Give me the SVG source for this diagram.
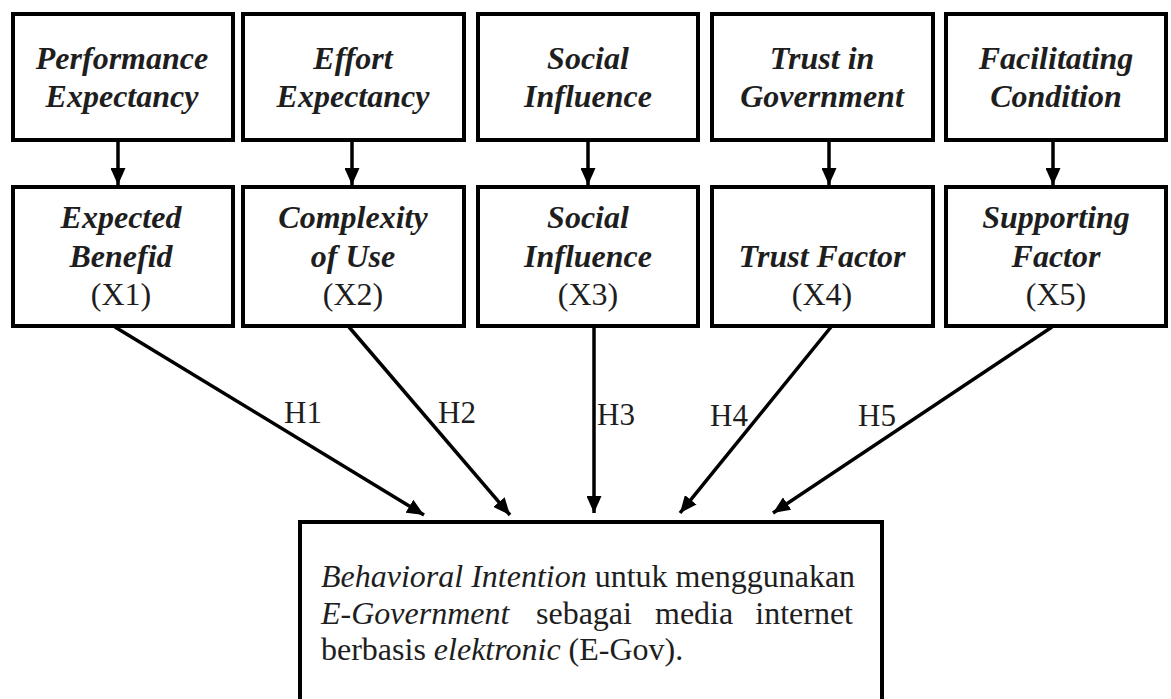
<svg xmlns="http://www.w3.org/2000/svg" width="1171" height="699" viewBox="0 0 1171 699">
<style>
.box{fill:#fff;stroke:#000;stroke-width:4}
.bi{font-style:italic;font-weight:bold}
</style>
<defs>
<marker id="ah" markerUnits="userSpaceOnUse" markerWidth="17" markerHeight="15" refX="17" refY="7.5" orient="auto">
<path d="M0,0 L17,7.5 L0,15 z" fill="#000"/>
</marker>
</defs>
<rect width="1171" height="699" fill="#fff"/>
<g font-family="Liberation Serif" font-size="32" fill="#1e1e1e">
<g id="performance-expectancy" text-anchor="middle">
<rect class="box" x="13" y="14" width="220" height="126"/>
<text class="bi" x="122" y="69">Performance</text>
<text class="bi" x="122" y="107">Expectancy</text>
</g>
<g id="effort-expectancy" text-anchor="middle">
<rect class="box" x="243" y="14" width="221" height="126"/>
<text class="bi" x="353" y="69">Effort</text>
<text class="bi" x="353" y="107">Expectancy</text>
</g>
<g id="social-influence-top" text-anchor="middle">
<rect class="box" x="478" y="14" width="220" height="126"/>
<text class="bi" x="588" y="69">Social</text>
<text class="bi" x="588" y="107">Influence</text>
</g>
<g id="trust-in-government" text-anchor="middle">
<rect class="box" x="712" y="14" width="221" height="126"/>
<text class="bi" x="822" y="69">Trust in</text>
<text class="bi" x="822" y="107">Government</text>
</g>
<g id="facilitating-condition" text-anchor="middle">
<rect class="box" x="946" y="14" width="220" height="126"/>
<text class="bi" x="1056" y="69">Facilitating</text>
<text class="bi" x="1056" y="107">Condition</text>
</g>

<g id="x1" text-anchor="middle">
<rect class="box" x="13" y="187" width="220" height="139"/>
<text class="bi" x="121" y="228">Expected</text>
<text class="bi" x="121" y="267">Benefid</text>
<text x="121" y="305">(X1)</text>
</g>
<g id="x2" text-anchor="middle">
<rect class="box" x="243" y="187" width="221" height="139"/>
<text class="bi" x="353" y="228">Complexity</text>
<text class="bi" x="353" y="267">of Use</text>
<text x="353" y="305">(X2)</text>
</g>
<g id="x3" text-anchor="middle">
<rect class="box" x="478" y="187" width="220" height="139"/>
<text class="bi" x="588" y="228">Social</text>
<text class="bi" x="588" y="267">Influence</text>
<text x="588" y="305">(X3)</text>
</g>
<g id="x4" text-anchor="middle">
<rect class="box" x="712" y="187" width="221" height="139"/>
<text class="bi" x="822" y="267">Trust Factor</text>
<text x="822" y="305">(X4)</text>
</g>
<g id="x5" text-anchor="middle">
<rect class="box" x="946" y="187" width="220" height="139"/>
<text class="bi" x="1056" y="228">Supporting</text>
<text class="bi" x="1056" y="267">Factor</text>
<text x="1056" y="305">(X5)</text>
</g>

<g id="behavioral-intention">
<rect class="box" x="300" y="522" width="582" height="200"/>
<text x="321" y="587"><tspan font-style="italic">Behavioral Intention</tspan> untuk menggunakan</text>
<text x="321" y="624" font-style="italic">E-Government</text>
<text x="536" y="624">sebagai</text>
<text x="655" y="624">media</text>
<text x="853" y="624" text-anchor="end">internet</text>
<text x="321" y="660">berbasis <tspan font-style="italic">elektronic</tspan> (E-Gov).</text>
</g>

<g id="connectors" stroke="#000" stroke-width="3.5" marker-end="url(#ah)">
<line x1="118" y1="142" x2="118" y2="185"/>
<line x1="352" y1="142" x2="352" y2="185"/>
<line x1="588" y1="142" x2="588" y2="185"/>
<line x1="829" y1="142" x2="829" y2="185"/>
<line x1="1053" y1="142" x2="1053" y2="185"/>
<line x1="115" y1="327" x2="424" y2="515"/>
<line x1="349" y1="327" x2="510" y2="515"/>
<line x1="594" y1="327" x2="594" y2="513"/>
<line x1="831" y1="327" x2="680" y2="513"/>
<line x1="1052" y1="327" x2="773" y2="513"/>
</g>
<g id="connector-labels" font-size="31">
<text x="284" y="423">H1</text>
<text x="438" y="423">H2</text>
<text x="597" y="425">H3</text>
<text x="710" y="426">H4</text>
<text x="858" y="426">H5</text>
</g>
</g>
</svg>
